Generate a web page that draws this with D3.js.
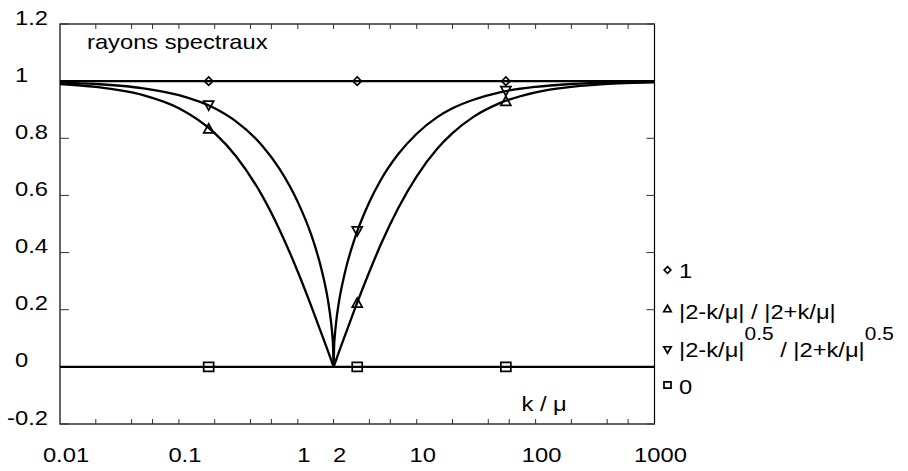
<!DOCTYPE html>
<html>
<head lang="fr">
    <meta charset="UTF-8">
    <title>rayons spectraux</title>
    <script src="https://d3js.org/d3.v7.min.js" charset="utf-8"></script>
    <style type="text/css">
        body { margin: 0; background: #fff; }
        text { font-family: "Liberation Sans", Arial, sans-serif; fill: #000; }
    </style>
</head>
<body>

<svg id="svg" width="908" height="471"></svg>

<script>
    // k / mu sample points and curve values
    var kSample = [0.01, 0.02, 0.05, 0.1, 0.2, 0.3, 0.5, 0.7, 1, 1.3, 1.6, 1.8, 1.9, 1.95, 1.98,
        2, 2.02, 2.05, 2.1, 2.2, 2.5, 3, 4, 5, 7, 10, 15, 20, 30, 50, 100, 200, 500, 1000];
    var ratioLin = [0.990, 0.980, 0.951, 0.905, 0.818, 0.739, 0.600, 0.481, 0.333, 0.212, 0.111, 0.053, 0.026, 0.013, 0.005,
        0, 0.005, 0.012, 0.024, 0.048, 0.111, 0.200, 0.333, 0.429, 0.556, 0.667, 0.765, 0.818, 0.875, 0.923, 0.961, 0.980, 0.992, 0.996];
    var ratioSqrt = [0.995, 0.990, 0.975, 0.951, 0.905, 0.860, 0.775, 0.694, 0.577, 0.461, 0.333, 0.229, 0.160, 0.113, 0.071,
        0, 0.071, 0.111, 0.156, 0.218, 0.333, 0.447, 0.577, 0.655, 0.745, 0.816, 0.875, 0.905, 0.935, 0.961, 0.980, 0.990, 0.996, 0.998];

    var lineK = [0.01, 1000];
    var lineOne = [1, 1];
    var lineZero = [0, 0];

    // marker positions along each curve
    var markK = [0.178, 3.16, 56.2];
    var markOne = [1, 1, 1];
    var markLin = [0.835, 0.225, 0.931];
    var markSqrt = [0.914, 0.474, 0.965];
    var markZero = [0, 0, 0];

    var xTickLabels = [0.01, 0.1, 1, 2, 10, 100, 1000];
    var xMinorTicks = [1, 2, 4, 6];
    var yTickValues = [-0.2, 0, 0.2, 0.4, 0.6, 0.8, 1, 1.2];

    var legendLabels = ["1", "|2-k/\u03bc| / |2+k/\u03bc|", "sqrt", "0"];
</script>

<script>
    var svg = d3.select("svg");

    var padLeft = 60, padRight = 654.5, padTop = 24, padBottom = 424;
    var sx = 1.13;      // the picture is a bit wider than tall
    var fontSize = 21;
    var supSize = 18.5;

    var x = d3.scaleLog().domain([0.01, 1000]).range([padLeft, padRight]);
    var y = d3.scaleLinear().domain([-0.2, 1.2]).range([padBottom, padTop]);

    function label(parent, px, py, str, anchor, size) {
        var g = parent.append("g")
            .attr("transform", "translate(" + px + "," + py + ") scale(" + sx + ",1)");
        return g.append("text")
            .attr("text-anchor", anchor || "start")
            .style("font-size", (size || fontSize) + "px")
            .text(str);
    }

    // frame
    svg.append("rect")
        .attr("x", padLeft).attr("y", padTop)
        .attr("width", padRight - padLeft).attr("height", padBottom - padTop)
        .attr("fill", "none").attr("stroke", "#000").attr("stroke-width", 1.2);

    // x ticks (inward, top and bottom)
    var xTicks = [];
    for (var d = -2; d < 3; d++) {
        xMinorTicks.forEach(function (m) { xTicks.push(m * Math.pow(10, d)); });
    }
    xTicks.shift();
    var ticks = svg.append("g").attr("stroke", "#333").attr("stroke-width", 1);
    xTicks.forEach(function (t) {
        ticks.append("line").attr("x1", x(t)).attr("x2", x(t)).attr("y1", padBottom).attr("y2", padBottom - 5);
        ticks.append("line").attr("x1", x(t)).attr("x2", x(t)).attr("y1", padTop).attr("y2", padTop + 5);
    });
    yTickValues.forEach(function (t) {
        ticks.append("line").attr("x1", padLeft).attr("x2", padLeft + 9).attr("y1", y(t)).attr("y2", y(t));
        ticks.append("line").attr("x1", padRight).attr("x2", padRight - 8).attr("y1", y(t)).attr("y2", y(t));
    });

    // tick labels
    xTickLabels.forEach(function (t) {
        label(svg, x(t) + 6, 461.5, String(t), "middle");
    });
    var minus = label(svg, 0, 0, "-");
    var minusW = minus.node().getComputedTextLength() * sx;
    minus.remove();
    yTickValues.forEach(function (t) {
        label(svg, 15 - (t < 0 ? minusW : 0), y(t) + 0.5, String(t), "start");
    });

    label(svg, 87, 49.3, "rayons spectraux", "start");
    label(svg, 521.5, 411, "k / \u03bc", "start");

    // curves
    var plot = svg.append("g");
    var curve = d3.line()
        .x(function (d) { return x(d[0]); })
        .y(function (d) { return y(d[1]); })
        .curve(d3.curveMonotoneX);

    function drawLine(ks, vs) {
        plot.append("path")
            .datum(d3.zip(ks, vs))
            .attr("d", curve)
            .attr("fill", "none")
            .attr("stroke", "#000")
            .attr("stroke-width", 2.3);
    }
    drawLine(lineK, lineOne);
    drawLine(lineK, lineZero);
    drawLine(kSample, ratioLin);
    drawLine(kSample, ratioSqrt);

    // marker shapes
    function diamond(px, py, s) {
        return "M" + px + "," + (py - s) + "L" + (px + s) + "," + py + "L" + px + "," + (py + s) + "L" + (px - s) + "," + py + "Z";
    }
    function triUp(px, py, w, h) {
        return "M" + (px - w) + "," + (py + h / 2) + "L" + (px + w) + "," + (py + h / 2) + "L" + px + "," + (py - h / 2) + "Z";
    }
    function triDown(px, py, w, h) {
        return "M" + (px - w) + "," + (py - h / 2) + "L" + (px + w) + "," + (py - h / 2) + "L" + px + "," + (py + h / 2) + "Z";
    }
    function square(px, py, s) {
        return "M" + (px - s) + "," + (py - s * 0.9) + "h" + (2 * s) + "v" + (1.8 * s) + "h" + (-2 * s) + "Z";
    }

    var shapes = [
        function (px, py, big) { return diamond(px, py, big ? 4.2 : 3.3); },
        function (px, py, big) { return triUp(px, py, big ? 5 : 3.7, big ? 9 : 6.5); },
        function (px, py, big) { return triDown(px, py, big ? 5 : 3.7, big ? 9 : 6.5); },
        function (px, py, big) { return square(px, py, big ? 5 : 3.5); }
    ];
    var markSeries = [markOne, markLin, markSqrt, markZero];

    markSeries.forEach(function (vals, i) {
        vals.forEach(function (v, j) {
            plot.append("path")
                .attr("d", shapes[i](x(markK[j]), y(v), true))
                .attr("fill", "none")
                .attr("stroke", "#000")
                .attr("stroke-width", 1.7);
        });
    });

    // legend
    var legY = [270, 308.5, 350, 385];
    var legBase = [277.7, 318.5, 357.3, 394];
    legendLabels.forEach(function (txt, i) {
        svg.append("path")
            .attr("d", shapes[i](667.5, legY[i], false))
            .attr("fill", "none")
            .attr("stroke", "#000")
            .attr("stroke-width", 1.7);
        if (txt == "sqrt") {
            var t = label(svg, 679, legBase[i], "", "start");
            t.append("tspan").text("|2-k/\u03bc|");
            t.append("tspan").attr("dy", -17).style("font-size", supSize + "px").text("0.5");
            t.append("tspan").attr("dy", 17).text(" / |2+k/\u03bc|");
            t.append("tspan").attr("dy", -17).style("font-size", supSize + "px").text("0.5");
        } else {
            label(svg, 679, legBase[i], txt, "start");
        }
    });
</script>

</body>
</html>
